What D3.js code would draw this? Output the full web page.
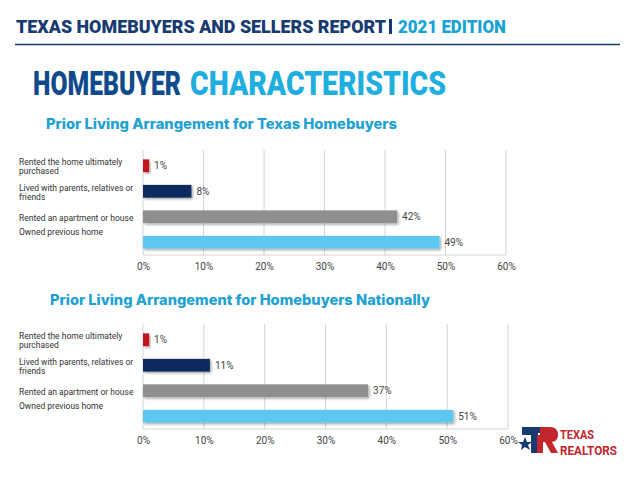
<!DOCTYPE html>
<html><head><meta charset="utf-8">
<script src="https://cdn.jsdelivr.net/npm/d3@7/dist/d3.min.js"></script>
<style>body{margin:0;background:#fff}svg{display:block}</style>
</head><body>
<script>
const categories = [
  ["Rented the home ultimately", "purchased"],
  ["Lived with parents, relatives or", "friends"],
  ["Rented an apartment or house"],
  ["Owned previous home"]
];
const texasValues = [1, 8, 42, 49];
const nationalValues = [1, 11, 37, 51];
const barColors = ["#c1141c", "#0b2a5e", "#8f8f8f", "#5bc8ef"];
const tickValues = [0, 10, 20, 30, 40, 50, 60];
const headerMain = "TEXAS HOMEBUYERS AND SELLERS REPORT";
const headerEdition = "2021 EDITION";
const titleA = "HOMEBUYER", titleB = "CHARACTERISTICS";
const subtitle1 = "Prior Living Arrangement for Texas Homebuyers";
const subtitle2 = "Prior Living Arrangement for Homebuyers Nationally";

const W = 640, H = 480;
const svg = d3.select("body").append("svg").attr("width", W).attr("height", H);
const defs = svg.append("defs");
const f = defs.append("filter").attr("id","sh").attr("x","-10%").attr("y","-30%").attr("width","130%").attr("height","180%");
f.append("feDropShadow").attr("dx",1.5).attr("dy",1.5).attr("stdDeviation",1).attr("flood-color","#000").attr("flood-opacity",0.35);

const cond = "'Roboto', 'Liberation Sans', sans-serif";
// header
svg.append("text").attr("x",16).attr("y",33).attr("font-family",cond).attr("font-weight",900)
  .attr("font-size",18).attr("fill","#173a70").attr("textLength",370).attr("lengthAdjust","spacingAndGlyphs").text(headerMain);
svg.append("rect").attr("x",389).attr("y",19).attr("width",3).attr("height",15).attr("fill","#173a70");
svg.append("text").attr("x",398).attr("y",33).attr("font-family",cond).attr("font-weight",900)
  .attr("font-size",18).attr("fill","#17a3d6").attr("textLength",108).attr("lengthAdjust","spacingAndGlyphs").text(headerEdition);
svg.append("line").attr("x1",15).attr("x2",620).attr("y1",44.5).attr("y2",44.5).attr("stroke","#173a70").attr("stroke-width",1.5);

// title: condensed look via vertical stretch
const tg = svg.append("g").attr("transform","translate(0,95) scale(1,1.25)");
tg.append("text").attr("x",33).attr("y",0).attr("font-family",cond).attr("font-weight",900).attr("font-size",26)
  .attr("fill","#0f4b8c").attr("textLength",148).attr("lengthAdjust","spacingAndGlyphs").text(titleA);
tg.append("text").attr("x",190).attr("y",0).attr("font-family",cond).attr("font-weight",900).attr("font-size",26)
  .attr("fill","#1faee0").attr("textLength",256).attr("lengthAdjust","spacingAndGlyphs").text(titleB);

function chart(sub, subX, subY, values, top, x0, x1) {
  svg.append("text").attr("x",subX).attr("y",subY).attr("font-family","'Inter','Open Sans',sans-serif")
    .attr("font-weight",800).attr("font-size",14).attr("fill","#1ea1d2")
    .attr("textLength", sub === subtitle1 ? 351 : 380).attr("lengthAdjust","spacingAndGlyphs").text(sub);
  const x = d3.scaleLinear().domain([0,60]).range([x0,x1]);
  const y = d3.scaleBand().domain(d3.range(values.length)).range([top+3, top+105]).paddingInner(0.5).paddingOuter(0.25);
  const g = svg.append("g");
  const bottom = top + 105;
  g.selectAll("line.grid").data(tickValues).join("line")
    .attr("x1",d=>x(d)).attr("x2",d=>x(d)).attr("y1",top).attr("y2",bottom)
    .attr("stroke","#d4d4d4").attr("stroke-width",1);
  g.append("line").attr("x1",x0).attr("x2",x1).attr("y1",bottom).attr("y2",bottom).attr("stroke","#d4d4d4");
  const ax = g.append("g").attr("transform",`translate(0,${bottom})`)
    .call(d3.axisBottom(x).tickValues(tickValues).tickFormat(d=>d+"%").tickSize(0).tickPadding(8));
  ax.select(".domain").remove();
  ax.selectAll("text").attr("font-family","'Roboto',sans-serif").attr("font-size",10).attr("fill","#444");
  g.selectAll("rect.bar").data(values).join("rect")
    .attr("x",x(0)).attr("y",(d,i)=>y(i)).attr("width",d=>x(d)-x(0)).attr("height",y.bandwidth())
    .attr("fill",(d,i)=>barColors[i]).attr("filter","url(#sh)");
  g.selectAll("text.val").data(values).join("text")
    .attr("x",d=>x(d)+5).attr("y",(d,i)=>y(i)+y.bandwidth()/2+3.5)
    .attr("font-family","'Roboto',sans-serif").attr("font-size",10).attr("fill","#444").text(d=>d+"%");
  categories.forEach((lines,i)=>{
    const cy = y(i)+y.bandwidth()/2 + (i === categories.length-1 ? -11 : 0);
    const t = g.append("text").attr("font-family","'Roboto',sans-serif").attr("font-size",8.5).attr("fill","#333");
    const startY = cy - (lines.length-1)*4.5 + 4;
    lines.forEach((ln,j)=>t.append("tspan").attr("x",19).attr("y",startY + j*9).text(ln));
  });
}
chart(subtitle1, 46, 129, texasValues, 150, 143, 506);
chart(subtitle2, 50, 305, nationalValues, 324, 143, 508);

// logo
const lg = svg.append("g").attr("transform","translate(522,427)");
lg.append("path").attr("d","M0,0 H24 V6 H16 V26 H9 V8 H0 Z").attr("fill","#173a70");
lg.append("path").attr("d","M3,10 L5,15 L10,15 L6,18 L8,23 L3,20 L-1,23 L0,18 L-4,15 L1,15 Z").attr("fill","#173a70");
lg.append("path").attr("d","M18,0 H28 Q36,0 36,8 Q36,14 30,15 L36,26 H29 L23,15 H21 V26 H15 V8 H18 Z").attr("fill","#c1272d");
lg.append("text").attr("x",38).attr("y",12).attr("font-family",cond).attr("font-weight",700).attr("font-size",12)
  .attr("fill","#c1272d").attr("textLength",34).attr("lengthAdjust","spacingAndGlyphs").text("TEXAS");
lg.append("text").attr("x",38).attr("y",28).attr("font-family",cond).attr("font-weight",700).attr("font-size",12)
  .attr("fill","#c1272d").attr("textLength",57).attr("lengthAdjust","spacingAndGlyphs").text("REALTORS");
</script>
</body></html>
